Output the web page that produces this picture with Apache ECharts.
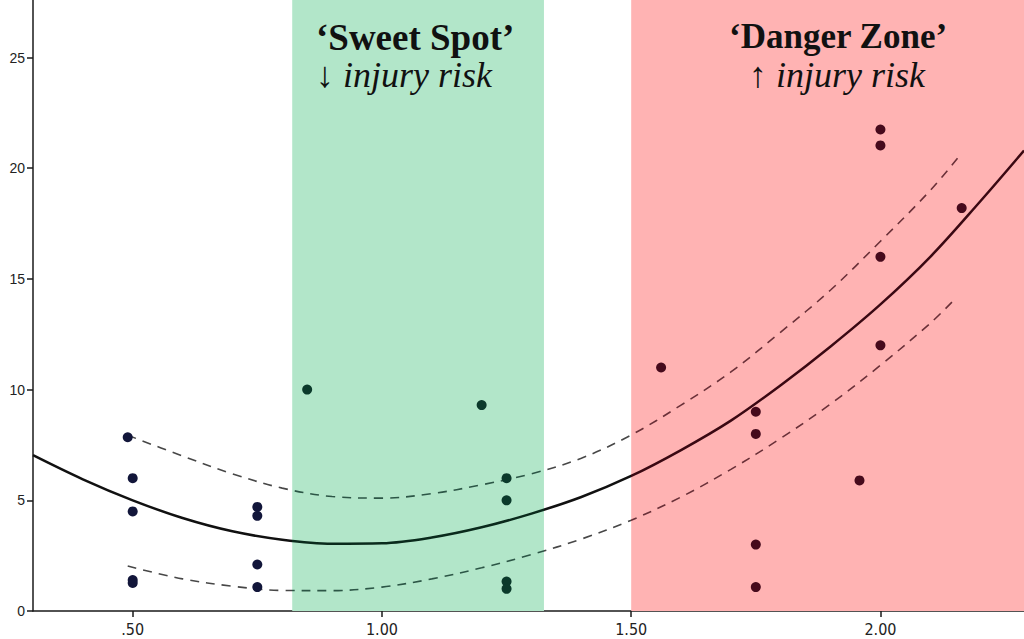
<!DOCTYPE html>
<html>
<head>
<meta charset="utf-8">
<script src="https://cdn.jsdelivr.net/npm/echarts@6/dist/echarts.min.js"></script>
<style>html,body{margin:0;padding:0;background:#fff}#c{width:1024px;height:639px}</style>
</head>
<body>
<div id="c"></div>
<script>
// Scatter points (x, y)
const pointX = [0.49, 0.5, 0.5, 0.5, 0.5, 0.75, 0.75, 0.75, 0.75, 0.85, 1.2, 1.25, 1.25, 1.25, 1.25, 1.56, 1.75, 1.75, 1.75, 1.75, 1.958, 2.0, 2.0, 2.0, 2.0, 2.163];
const pointY = [7.85, 6.0, 4.5, 1.4, 1.27, 4.7, 4.3, 2.1, 1.08, 10.0, 9.3, 6.0, 5.0, 1.33, 1.0, 11.0, 9.0, 8.0, 3.0, 1.08, 5.9, 21.75, 21.03, 16.0, 12.0, 18.2];

// Fitted curve
const fitX = [0.30, 0.40, 0.50, 0.60, 0.70, 0.80, 0.90, 1.00, 1.10, 1.20, 1.30, 1.40, 1.50, 1.60, 1.70, 1.80, 1.90, 2.00, 2.10, 2.20, 2.288];
const fitY = [7.04, 5.95, 5.0, 4.2, 3.6, 3.22, 3.04, 3.06, 3.32, 3.78, 4.4, 5.15, 6.1, 7.27, 8.6, 10.2, 11.95, 13.85, 16.0, 18.5, 20.8];

// Confidence band (dashed)
const upperX = [0.49, 0.60, 0.70, 0.80, 0.90, 1.00, 1.10, 1.20, 1.30, 1.40, 1.50, 1.60, 1.70, 1.80, 1.90, 2.00, 2.10, 2.16];
const upperY = [7.94, 7.0, 6.2, 5.55, 5.17, 5.1, 5.3, 5.7, 6.2, 6.9, 7.95, 9.3, 10.8, 12.6, 14.5, 16.7, 19.0, 20.6];
const lowerX = [0.49, 0.60, 0.70, 0.80, 0.90, 1.00, 1.10, 1.20, 1.30, 1.40, 1.50, 1.60, 1.70, 1.80, 1.90, 2.00, 2.10, 2.15];
const lowerY = [2.03, 1.45, 1.12, 0.93, 0.92, 1.08, 1.45, 1.95, 2.55, 3.25, 4.1, 5.15, 6.4, 7.8, 9.35, 11.1, 13.0, 14.1];

// Zones
const sweetSpot = [0.82, 1.325];
const dangerZone = [1.5, 2.288];

// Ticks
const xTicks = [0.5, 1.0, 1.5, 2.0];
const xTickLabels = ['.50', '1.00', '1.50', '2.00'];
const yTicks = [0, 5, 10, 15, 20, 25];

const zip = (a, b) => a.map((v, i) => [v, b[i]]);

const zonePieces = (cW, cG, cR) => [
  { lt: sweetSpot[0], color: cW },
  { gte: sweetSpot[0], lt: sweetSpot[1], color: cG },
  { gte: sweetSpot[1], lt: dangerZone[0], color: cW },
  { gte: dangerZone[0], color: cR }
];

const chart = echarts.init(document.getElementById('c'), null, { renderer: 'svg' });
chart.setOption({
  backgroundColor: '#ffffff',
  animation: false,
  grid: { left: 33, right: 0, top: 0, bottom: 28, containLabel: false },
  xAxis: {
    type: 'value', min: 0.3, max: 2.288,
    splitLine: { show: false },
    axisLine: { show: true, onZero: false, lineStyle: { color: '#1a1a1a', width: 1.5 } },
    axisTick: { show: true, length: 6, customValues: xTicks, lineStyle: { color: '#1a1a1a', width: 1.5 } },
    axisLabel: {
      customValues: xTicks, margin: 10, color: '#222',
      fontFamily: '"Liberation Sans Narrow", "DejaVu Sans Condensed", sans-serif', fontSize: 16,
      formatter: v => xTickLabels[xTicks.indexOf(v)] ?? ''
    }
  },
  yAxis: {
    type: 'value', min: 0, max: 27.6,
    splitLine: { show: false },
    axisLine: { show: true, lineStyle: { color: '#1a1a1a', width: 1.5 } },
    axisTick: { show: true, length: 6, customValues: yTicks, lineStyle: { color: '#1a1a1a', width: 1.5 } },
    axisLabel: {
      customValues: yTicks, margin: 8, color: '#222',
      fontFamily: '"Liberation Sans", Arial, sans-serif', fontSize: 14
    }
  },
  visualMap: [
    { type: 'piecewise', show: false, dimension: 0, seriesIndex: 1, pieces: zonePieces('#111111', '#0a2a1c', '#3a0812') },
    { type: 'piecewise', show: false, dimension: 0, seriesIndex: [2, 3], pieces: zonePieces('#474747', '#2c5646', '#6a3038') },
    { type: 'piecewise', show: false, dimension: 0, seriesIndex: 4, pieces: zonePieces('#12163a', '#0b3a2b', '#460a1c') }
  ],
  series: [
    {
      type: 'line', data: [], z: 1, silent: true,
      markArea: {
        silent: true,
        data: [
          [{ xAxis: sweetSpot[0], itemStyle: { color: '#b2e6c9' } }, { xAxis: sweetSpot[1] }],
          [{ xAxis: dangerZone[0], itemStyle: { color: '#ffb3b3' } }, { xAxis: dangerZone[1] }]
        ]
      }
    },
    {
      name: 'fit', type: 'line', data: zip(fitX, fitY), smooth: 0.35, showSymbol: false, z: 5,
      lineStyle: { width: 2.5 }
    },
    {
      name: 'upper', type: 'line', data: zip(upperX, upperY), smooth: 0.35, showSymbol: false, z: 4,
      lineStyle: { width: 1.6, type: [9, 7] }
    },
    {
      name: 'lower', type: 'line', data: zip(lowerX, lowerY), smooth: 0.35, showSymbol: false, z: 4,
      lineStyle: { width: 1.6, type: [9, 7] }
    },
    {
      name: 'points', type: 'scatter', data: zip(pointX, pointY), symbolSize: 10, z: 6,
      itemStyle: { opacity: 1 }
    }
  ],
  graphic: [
    { type: 'text', left: 316, top: 19, z: 10, style: { text: '\u2018Sweet Spot\u2019', font: 'bold 37px "Liberation Serif", "Times New Roman", serif', fill: '#111' } },
    { type: 'text', left: 316, top: 57, z: 10, style: { text: '\u2193 injury risk', font: 'italic 36px "Liberation Serif", "Times New Roman", serif', fill: '#111' } },
    { type: 'text', left: 729, top: 19, z: 10, style: { text: '\u2018Danger Zone\u2019', font: 'bold 35px "Liberation Serif", "Times New Roman", serif', fill: '#111' } },
    { type: 'text', left: 749, top: 57, z: 10, style: { text: '\u2191 injury risk', font: 'italic 36px "Liberation Serif", "Times New Roman", serif', fill: '#111' } }
  ]
});
</script>
</body>
</html>
